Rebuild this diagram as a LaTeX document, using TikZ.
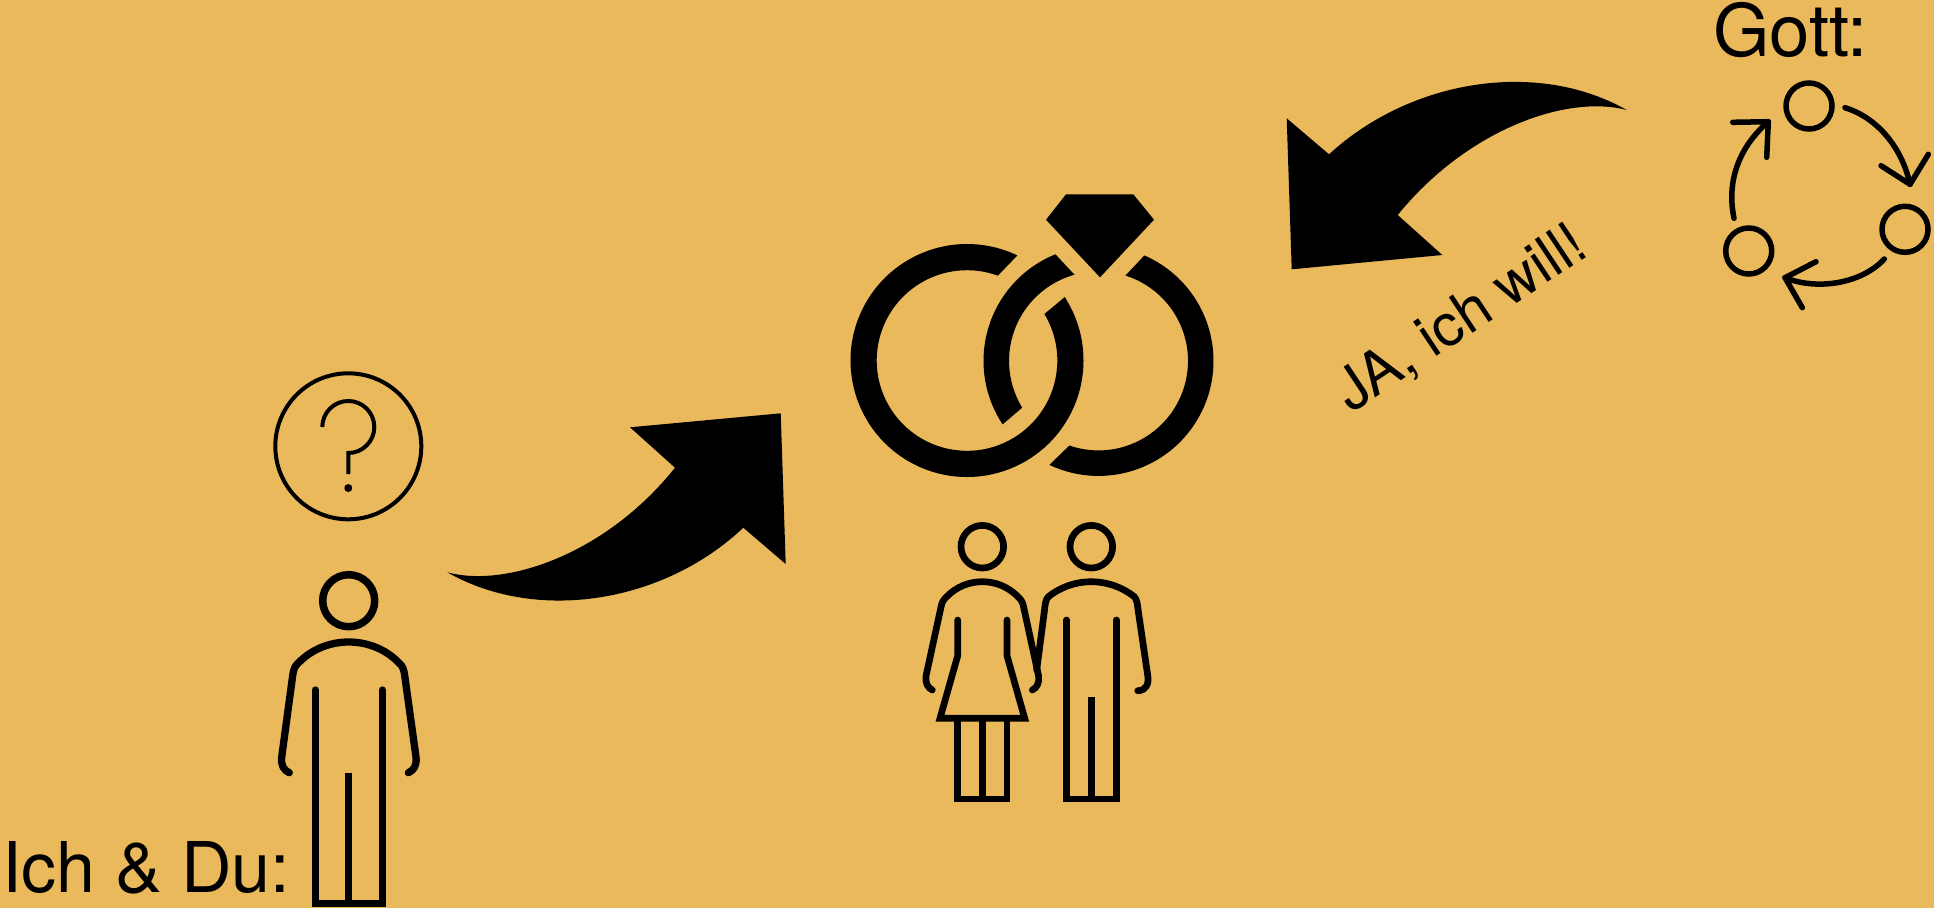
\documentclass[tikz,border=0pt]{standalone}
\usepackage{fontspec}
\setmainfont{TeX Gyre Heros}
\definecolor{bgc}{HTML}{E9B95B}
\tikzset{
  bigtext/.style={anchor=base west,inner sep=0pt,font=\fontsize{70}{80}\selectfont},
  godtext/.style={anchor=base west,inner sep=0pt,font=\fontsize{72.5}{80}\selectfont},
  midtext/.style={anchor=base west,inner sep=0pt,font=\fontsize{58.5}{66}\selectfont},
  limb/.style={draw=black,line cap=round,line join=round,line width=#1},
  legs/.style={draw=black,line cap=round,line join=miter,miter limit=10,line width=#1},
  seam/.style={draw=black,line cap=butt,line width=#1}
}
\newcommand{\ringpart}[8]{% cx cy ro ri a1 a2 b2 b1
  \begin{scope}[shift={(#1,#2)},y=1pt]
    \fill[black] (#5:#3) arc[start angle=#5,end angle=#6,radius=#3] -- (#7:#4) arc[start angle=#7,end angle=#8,radius=#4] -- cycle;
  \end{scope}}
\begin{document}
\begin{tikzpicture}[x=1pt,y=-1pt]
\useasboundingbox (0,0) rectangle (1934,908);
\fill[bgc] (0,0) rectangle (1934,908);

% question
\draw[line width=4pt] (348.3,446.3) circle[radius=73];
\draw[line width=4pt] (322.3,427) .. controls (322.3,412.6) and (334,401) .. (348.3,401) .. controls (362.6,401) and (374.3,412.6) .. (374.3,427) .. controls (374.3,441.4) and (362.6,453) .. (348.3,453) -- (348.3,474);
\fill (348.3,488) circle[radius=4];

% single person
\draw[line width=7.5pt] (348.7,600.7) circle[radius=26];
\draw[limb=7.3pt] (289.3,772.7) .. controls (284,770.5) and (280.7,765.5) .. (281.7,757) -- (292.5,677) .. controls (293.5,669) and (294.8,666) .. (298.3,663) .. controls (311.5,649.3) and (329.7,642) .. (348.7,642) .. controls (367.7,642) and (385.9,649.3) .. (399.1,663) .. controls (402.6,666) and (403.9,669) .. (404.9,677) -- (416,757) .. controls (417,765.5) and (413.7,770.5) .. (408.3,772.7);
\draw[legs=7.3pt] (315.3,690) -- (315.3,903.3) -- (382.3,903.3) -- (382.3,690);
\draw[seam=7.3pt] (348.7,772.7) -- (348.7,903.3);

% big arrow 1
\fill (447.3,572.3) .. controls (506.7,588.3) and (606.7,553.3) .. (675,467.7) -- (630,427.3) -- (780.7,413.3) -- (785.7,564) -- (743.3,527.7) .. controls (663.3,603.3) and (536.7,623.3) .. (447.3,572.3) -- cycle;

% big arrow 2
\fill (1626.7,110) .. controls (1567.3,94.2) and (1467.3,129.2) .. (1397.7,215) -- (1442.3,255) -- (1291.7,269.3) -- (1286.7,118.3) -- (1329,154.3) .. controls (1410.7,79.2) and (1537.3,59.2) .. (1626.7,110) -- cycle;

% rings
\ringpart{967}{360.5}{116.5}{90.3}{64.4}{393}{391}{70}
\ringpart{1098.5}{360.9}{115}{89.5}{112}{213.5}{211.5}{105.6}
\ringpart{1098.5}{360.9}{115}{89.5}{244.7}{426.5}{432.5}{251}
\fill (1066,194.3) -- (1133.3,194.3) -- (1154,219.7) -- (1100,277.3) -- (1046,219.7) -- cycle;

% woman
\draw[line width=6.7pt] (982.3,546.7) circle[radius=21.3];
\draw[limb=6.7pt] (932.3,690) .. controls (928,688) and (925,683) .. (926,676) -- (941,607) .. controls (941.7,603) and (943,600) .. (946.7,596.7) .. controls (956.1,587) and (968.8,581.7) .. (982.3,581.7) .. controls (995.8,581.7) and (1008.5,587) .. (1017.9,596.7) .. controls (1021.6,600) and (1022.9,603) .. (1023.6,607) -- (1038.6,676) .. controls (1039.6,683) and (1036.6,688) .. (1032.3,690);
\draw[legs=6.7pt] (957.7,620) -- (957.7,655.7) -- (940,718.3) -- (1024.7,718.3) -- (1007,655.7) -- (1007,620);
\draw[draw=black,line width=6.7pt,line join=miter] (957.7,718.3) -- (957.7,799) -- (1007,799) -- (1007,718.3);
\draw[seam=6.7pt] (982.3,718.3) -- (982.3,799);

% man
\draw[line width=6.7pt] (1091.3,546.7) circle[radius=21.3];
\draw[limb=6.7pt] (1036.7,670) -- (1044.5,610) .. controls (1045.2,604) and (1045.5,600) .. (1048.3,596.7) .. controls (1060.5,587) and (1075.7,581.7) .. (1091.3,581.7) .. controls (1106.9,581.7) and (1122.1,587) .. (1134.3,596.7) .. controls (1137,600) and (1137.4,604) .. (1138.1,610) -- (1147.8,676) .. controls (1149,684) and (1146,690.7) .. (1137.7,690.7);
\draw[legs=6.7pt] (1066.7,620) -- (1066.7,799) -- (1116.3,799) -- (1116.3,620);
\draw[seam=6.7pt] (1091.3,697.3) -- (1091.3,799);

% god
\draw[line width=5.5pt] (1809,106) circle[radius=23];
\draw[line width=5.5pt] (1905,229.3) circle[radius=23];
\draw[line width=5.5pt] (1748.7,251) circle[radius=23];
\draw[limb=5.5pt] (1845,107.7) .. controls (1878,118) and (1902,148) .. (1910,184.3);
\draw[limb=5.5pt] (1881,165.7) -- (1910,184.3) -- (1928.3,154.3);
\draw[limb=5.5pt] (1884.3,259) .. controls (1860,285) and (1815,290) .. (1785,277.7);
\draw[limb=5.5pt] (1816,261.7) -- (1785,277.7) -- (1802.3,307.7);
\draw[limb=5.5pt] (1734,218.3) .. controls (1726,180) and (1740,146) .. (1768.3,121.7);
\draw[limb=5.5pt] (1732.7,122.3) -- (1768.3,121.7) -- (1766.7,157.3);

% text
\node[bigtext] (ichdu) at (2,892.7) {Ich \& Du:};
\node[godtext] (gott) at (1713,56) {Gott:};
\node[midtext,rotate=33.6] (ja) at (1351,413.5) {JA, ich will!};
\end{tikzpicture}
\end{document}
